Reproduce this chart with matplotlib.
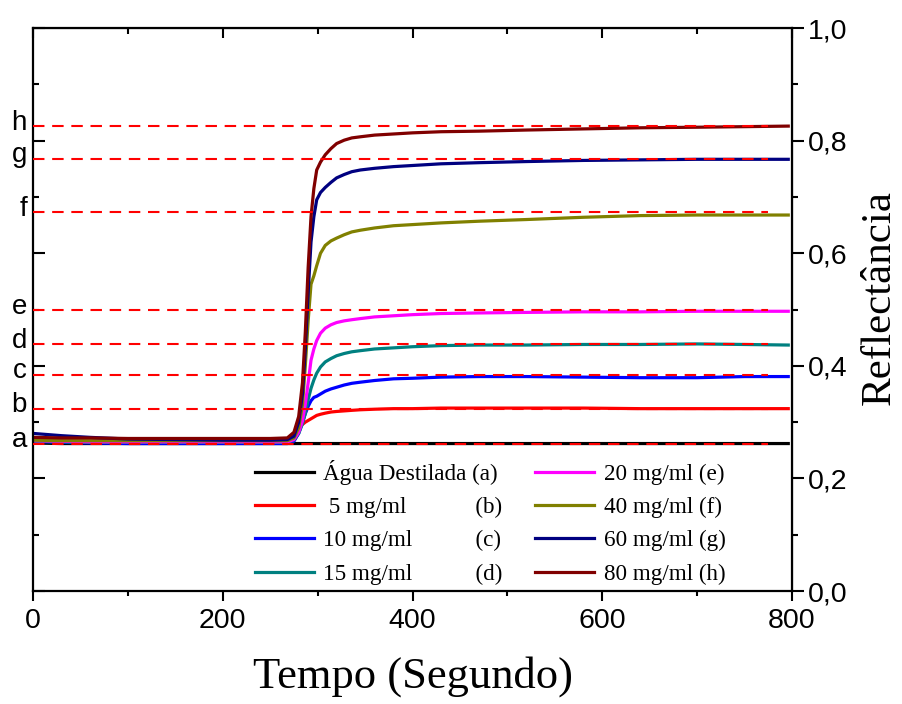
import numpy as np
import matplotlib.pyplot as plt
from matplotlib.ticker import MultipleLocator

plt.rcParams['font.family'] = ['Liberation Sans', 'DejaVu Sans']

# tempo (s)
tempo = [0, 30, 60, 100, 150, 200, 250, 268, 275, 280, 284, 287, 290, 293, 296, 299,
         303, 308, 314, 320, 328, 336, 345, 360, 380, 400, 430, 470, 520, 580, 640, 700, 750, 796]

agua = [0.263, 0.262, 0.262, 0.262, 0.262, 0.262, 0.262, 0.262, 0.262, 0.262, 0.262, 0.262,
        0.262, 0.262, 0.262, 0.262, 0.262, 0.262, 0.262, 0.262, 0.262, 0.262, 0.262, 0.262,
        0.262, 0.262, 0.262, 0.262, 0.262, 0.262, 0.262, 0.262, 0.262, 0.262]
c5 = [0.268, 0.267, 0.266, 0.266, 0.266, 0.266, 0.266, 0.266, 0.275, 0.290, 0.296, 0.300,
      0.303, 0.306, 0.309, 0.312, 0.314, 0.316, 0.318, 0.319, 0.320, 0.321, 0.322, 0.323,
      0.324, 0.324, 0.325, 0.325, 0.325, 0.325, 0.324, 0.324, 0.324, 0.324]
c10 = [0.266, 0.264, 0.263, 0.262, 0.262, 0.262, 0.262, 0.262, 0.266, 0.280, 0.300, 0.315,
       0.328, 0.338, 0.344, 0.346, 0.350, 0.355, 0.359, 0.362, 0.366, 0.369, 0.371, 0.374,
       0.377, 0.378, 0.380, 0.381, 0.381, 0.380, 0.379, 0.379, 0.381, 0.381]
c15 = [0.266, 0.265, 0.264, 0.264, 0.264, 0.264, 0.264, 0.264, 0.268, 0.280, 0.297, 0.316,
       0.340, 0.360, 0.375, 0.387, 0.398, 0.407, 0.413, 0.418, 0.422, 0.425, 0.427, 0.430,
       0.432, 0.434, 0.436, 0.437, 0.437, 0.438, 0.438, 0.439, 0.438, 0.437]
c20 = [0.267, 0.266, 0.265, 0.265, 0.265, 0.265, 0.265, 0.265, 0.269, 0.282, 0.302, 0.332,
       0.370, 0.410, 0.430, 0.445, 0.458, 0.467, 0.473, 0.477, 0.480, 0.482, 0.484, 0.487,
       0.489, 0.491, 0.493, 0.494, 0.495, 0.496, 0.496, 0.497, 0.497, 0.497]
c40 = [0.268, 0.267, 0.267, 0.267, 0.267, 0.267, 0.267, 0.267, 0.272, 0.290, 0.330, 0.400,
       0.480, 0.545, 0.560, 0.578, 0.600, 0.614, 0.622, 0.627, 0.633, 0.638, 0.641, 0.645,
       0.649, 0.651, 0.654, 0.657, 0.660, 0.664, 0.667, 0.668, 0.668, 0.668]
c60 = [0.280, 0.276, 0.273, 0.270, 0.269, 0.268, 0.268, 0.269, 0.275, 0.300, 0.350, 0.430,
       0.530, 0.620, 0.665, 0.695, 0.708, 0.717, 0.726, 0.734, 0.740, 0.745, 0.748, 0.751,
       0.754, 0.756, 0.759, 0.761, 0.763, 0.765, 0.766, 0.767, 0.767, 0.767]
c80 = [0.273, 0.272, 0.272, 0.271, 0.271, 0.271, 0.271, 0.272, 0.282, 0.310, 0.370, 0.460,
       0.575, 0.665, 0.715, 0.748, 0.762, 0.775, 0.786, 0.795, 0.801, 0.805, 0.807, 0.810,
       0.812, 0.814, 0.816, 0.817, 0.819, 0.821, 0.823, 0.824, 0.825, 0.826]

series = [agua, c5, c10, c15, c20, c40, c60, c80]
rotulos = ['Água Destilada (a)', ' 5 mg/ml            (b)', '10 mg/ml           (c)',
           '15 mg/ml           (d)', '20 mg/ml (e)', '40 mg/ml (f)', '60 mg/ml (g)', '80 mg/ml (h)']
cores = ['#000000', '#ff0000', '#0000ff', '#008080', '#ff00ff', '#808000', '#000080', '#800000']

letras = ['a', 'b', 'c', 'd', 'e', 'f', 'g', 'h']
niveis = [0.262, 0.324, 0.384, 0.439, 0.499, 0.673, 0.768, 0.826]

yticks = [0.0, 0.2, 0.4, 0.6, 0.8, 1.0]
ytick_labels = ['0,0', '0,2', '0,4', '0,6', '0,8', '1,0']

fig = plt.figure(figsize=(9.02, 7.04), dpi=100)
ax = fig.add_axes([0.0366, 0.1605, 0.8415, 0.7995])

for v, lab, c in zip(series, rotulos, cores):
    ax.plot(tempo, v, color=c, lw=2.3, label=lab)

for nv in niveis:
    ax.plot([0, 775], [nv, nv], color='#ff0000', lw=1.5, dashes=(5.5, 3.7), zorder=5)

for l, nv in zip(letras, niveis):
    ax.text(-0.008, nv + 0.006, l, transform=ax.get_yaxis_transform(), ha='right', va='center',
            fontsize=20)

ax.set_xlim(0, 800)
ax.set_ylim(0, 1.0)

for s in ax.spines.values():
    s.set_linewidth(1.6)

# bottom: outward; left: inward, no labels
ax.xaxis.set_major_locator(MultipleLocator(200))
ax.xaxis.set_minor_locator(MultipleLocator(100))
ax.tick_params(axis='x', which='major', direction='out', length=7, width=1.5, labelsize=20.5, pad=5)
ax.tick_params(axis='x', which='minor', direction='out', length=3.5, width=1.5)
ax.yaxis.set_major_locator(MultipleLocator(0.2))
ax.yaxis.set_minor_locator(MultipleLocator(0.1))
ax.tick_params(axis='y', which='major', direction='in', length=8.5, width=1.5, labelleft=False)
ax.tick_params(axis='y', which='minor', direction='in', length=4.5, width=1.5)

# top: inward
axt = ax.secondary_xaxis('top')
axt.xaxis.set_major_locator(MultipleLocator(200))
axt.xaxis.set_minor_locator(MultipleLocator(100))
axt.tick_params(axis='x', which='major', direction='in', length=7, width=1.5, labeltop=False)
axt.tick_params(axis='x', which='minor', direction='in', length=4.5, width=1.5)

# right: outward, labeled
axr = ax.secondary_yaxis('right')
axr.set_yticks(yticks)
axr.set_yticklabels(ytick_labels)
axr.yaxis.set_minor_locator(MultipleLocator(0.1))
axr.tick_params(axis='y', which='major', direction='out', length=8.5, width=1.5, labelsize=20.5, pad=3)
axr.tick_params(axis='y', which='minor', direction='out', length=4, width=1.5)

ax.set_ylabel('Reflectância', fontsize=31, family='Liberation Serif')
ax.yaxis.set_label_position('right')
ax.yaxis.set_label_coords(1.09, 0.522)

ax.set_xlabel('Tempo (Segundo)', fontsize=32, family='Liberation Serif', labelpad=16)

ax.legend(loc='upper left', bbox_to_anchor=(0.2925, 0.233), ncol=2, frameon=False,
          prop={'family': 'Liberation Serif', 'size': 16.7}, handlelength=2.55, handletextpad=0.4,
          columnspacing=1.4, labelspacing=0.52, borderpad=0, borderaxespad=0)

fig.savefig('out.png', dpi=100)
